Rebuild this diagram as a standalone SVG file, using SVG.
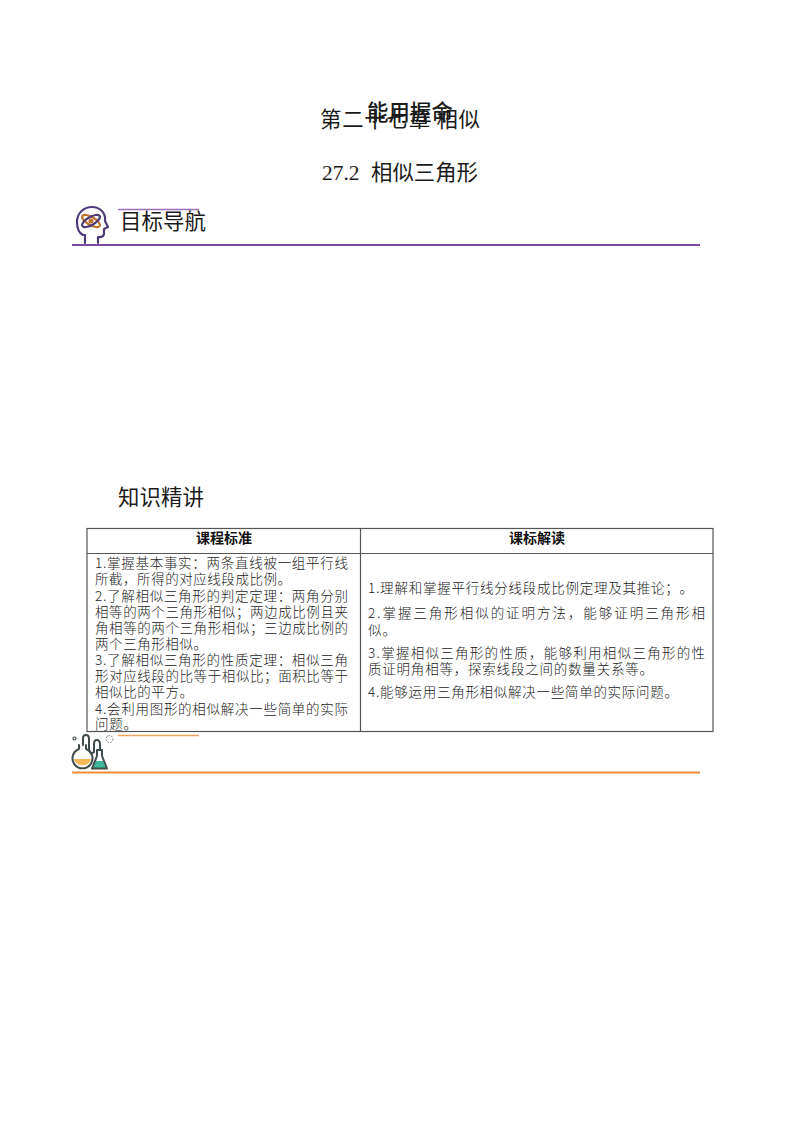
<svg xmlns="http://www.w3.org/2000/svg" width="800" height="1132" viewBox="0 0 800 1132">
<style>
text{font-family:"Noto Sans CJK SC","DejaVu Sans",sans-serif;fill:#1a1a1a;text-spacing-trim:space-all}
.h{font-size:21.4px}
.b{font-size:13.500px;font-weight:300;fill:#222}
.th{font-size:14px;font-weight:700;text-anchor:middle;fill:#111}
.tl{stroke:#555;stroke-width:1.2;fill:none}
.ic{fill:none;stroke:#4f3a78;stroke-width:2.200;stroke-linecap:round;stroke-linejoin:round}
.fl{fill:none;stroke:#3f4a4a;stroke-width:2;stroke-linecap:round;stroke-linejoin:round}
</style>
<rect width="800" height="1132" fill="#fff"/>
<g id="title">
<text class="h" x="320" y="126.500" textLength="160" lengthAdjust="spacing">第二十七章 相似</text>
<text class="h" x="367" y="119.500" font-weight="500" textLength="86" lengthAdjust="spacing">能用握命</text>
<text class="h" x="322" y="180" style="font-family:'Liberation Serif',serif">27.2</text>
<text class="h" x="371" y="180" textLength="107" lengthAdjust="spacing">相似三角形</text>
</g>
<g id="goal-header">
<path class="ic" d="M85 243V235H83Q77 232 77 222C77 212 85 207 92 207C101 207 106 214 105 221L108 227L104 229V234Q103 238 98 237V243"/>
<ellipse cx="91" cy="221" rx="10" ry="4" transform="rotate(30 91 221)" fill="none" stroke="#c0722a" stroke-width="2.200"/>
<ellipse cx="91" cy="221" rx="10" ry="4" transform="rotate(-30 91 221)" fill="none" stroke="#4f3a78" stroke-width="2.200"/>
<circle cx="91" cy="221" r="2.500" fill="#c0722a"/>
<line x1="118" y1="209.500" x2="199" y2="209.500" stroke="#9a6fc0" stroke-width="1.500"/>
<text class="h" x="120" y="229" textLength="86" lengthAdjust="spacing">目标导航</text>
<line x1="72" y1="245" x2="700" y2="245" stroke="#7b4a9e" stroke-width="2"/>
</g>
<g id="knowledge-header">
<text class="h" x="118" y="505" textLength="86" lengthAdjust="spacing">知识精讲</text>
</g>
<g id="table">
<rect class="tl" x="87" y="528.500" width="626" height="203"/>
<line class="tl" x1="87" y1="553.500" x2="713" y2="553.500"/>
<line class="tl" x1="360.500" y1="528.500" x2="360.500" y2="731.500"/>
<text class="th" x="224" y="543">课程标准</text>
<text class="th" x="537" y="543">课标解读</text>
<text class="b" x="95" y="568" textLength="253" lengthAdjust="spacing">1.掌握基本事实：两条直线被一组平行线</text>
<text class="b" x="95" y="584" textLength="196" lengthAdjust="spacing">所截，所得的对应线段成比例。</text>
<text class="b" x="95" y="600.500" textLength="253" lengthAdjust="spacing">2.了解相似三角形的判定定理：两角分别</text>
<text class="b" x="95" y="616.500" textLength="253" lengthAdjust="spacing">相等的两个三角形相似；两边成比例且夹</text>
<text class="b" x="95" y="632.500" textLength="253" lengthAdjust="spacing">角相等的两个三角形相似；三边成比例的</text>
<text class="b" x="95" y="648.500" textLength="112" lengthAdjust="spacing">两个三角形相似。</text>
<text class="b" x="95" y="665" textLength="253" lengthAdjust="spacing">3.了解相似三角形的性质定理：相似三角</text>
<text class="b" x="95" y="681" textLength="253" lengthAdjust="spacing">形对应线段的比等于相似比；面积比等于</text>
<text class="b" x="95" y="697" textLength="98" lengthAdjust="spacing">相似比的平方。</text>
<text class="b" x="95" y="713.500" textLength="253" lengthAdjust="spacing">4.会利用图形的相似解决一些简单的实际</text>
<text class="b" x="95" y="729" textLength="42" lengthAdjust="spacing">问题。</text>
<text class="b" x="368" y="593" textLength="325" lengthAdjust="spacing">1.理解和掌握平行线分线段成比例定理及其推论；。</text>
<text class="b" x="368" y="618" textLength="337" lengthAdjust="spacing">2.掌握三角形相似的证明方法，能够证明三角形相</text>
<text class="b" x="368" y="635" textLength="28" lengthAdjust="spacing">似。</text>
<text class="b" x="368" y="658" textLength="337" lengthAdjust="spacing">3.掌握相似三角形的性质，能够利用相似三角形的性</text>
<text class="b" x="368" y="674" textLength="285" lengthAdjust="spacing">质证明角相等，探索线段之间的数量关系等。</text>
<text class="b" x="368" y="697" textLength="310" lengthAdjust="spacing">4.能够运用三角形相似解决一些简单的实际问题。</text>
</g>
<g id="practice-header">
<path d="M73.600 759A9.500 9.500 0 0 0 91.400 759Z" fill="#f5b95a"/>
<path class="fl" d="M79 745V749A10 10 0 1 0 86 749V745"/>
<path class="fl" d="M83 745V738Q83 735 86 735Q89 735 89 739V750Q91 755 94 752V744Q94 740 97 740Q100 740 100 745V750"/>
<path d="M96 761L93 768H106L103 761Z" fill="#3cb89a"/>
<path class="fl" d="M97 750V756L92 768.500H107L102 756V750Z"/>
<circle cx="74.500" cy="738.500" r="1.500" fill="none" stroke="#3f4a4a" stroke-width="1.200"/>
<circle cx="109.500" cy="739" r="3.500" fill="none" stroke="#666" stroke-width="1" stroke-dasharray="1.500 1.500"/>
<line x1="118" y1="735.500" x2="199" y2="735.500" stroke="#f4a460" stroke-width="1.500"/>
<line x1="72" y1="772.500" x2="700" y2="772.500" stroke="#ee8a3c" stroke-width="2"/>
</g>
</svg>
